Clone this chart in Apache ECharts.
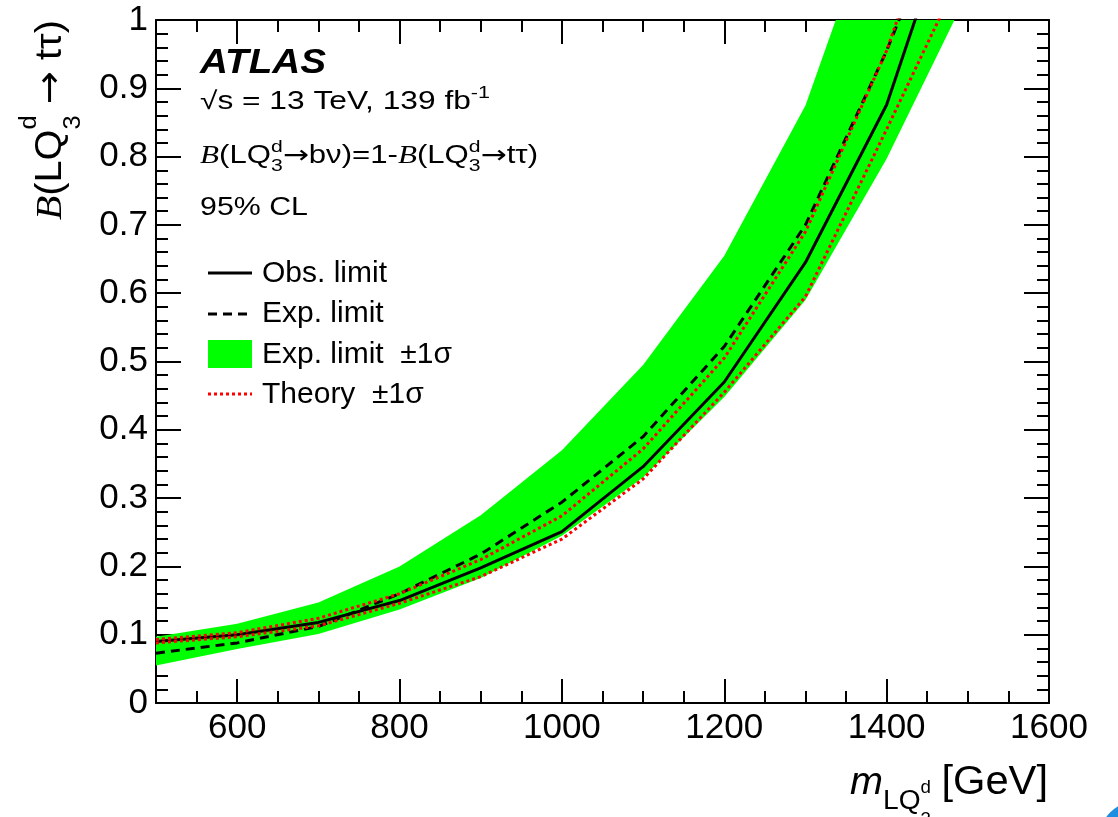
<!DOCTYPE html>
<html>
<head>
<meta charset="utf-8">
<script src="https://cdn.jsdelivr.net/npm/echarts@6/dist/echarts.min.js"></script>
<style>
  html, body { margin: 0; padding: 0; background: #fff; }
  #chart { width: 1118px; height: 817px; }
</style>
</head>
<body>
<div id="chart"></div>
<script>
// Leptoquark mass points [GeV]
const massPoints = [500, 600, 700, 800, 900, 1000, 1100, 1200, 1300, 1400, 1500];
// 95% CL limits on B(LQ -> t tau)
const observedLimit = [0.090, 0.100, 0.118, 0.150, 0.198, 0.251, 0.346, 0.470, 0.645, 0.876, 1.23];
const expectedLimit = [0.073, 0.088, 0.112, 0.160, 0.218, 0.294, 0.390, 0.522, 0.700, 0.955, 1.25];
const expectedUp1s  = [0.097, 0.116, 0.147, 0.200, 0.275, 0.370, 0.495, 0.655, 0.875, 1.21, 1.60];
const expectedDn1s  = [0.055, 0.079, 0.101, 0.137, 0.183, 0.245, 0.330, 0.448, 0.590, 0.797, 1.04];
const theoryUp1s    = [0.093, 0.103, 0.124, 0.160, 0.210, 0.274, 0.372, 0.505, 0.690, 0.955, 1.30];
const theoryDn1s    = [0.088, 0.097, 0.113, 0.146, 0.185, 0.240, 0.328, 0.455, 0.595, 0.840, 1.09];
// axis ticks
const xMajorTicks = [600, 800, 1000, 1200, 1400, 1600];
const xMinorStep = 50;
const yMajorStep = 0.1;

const SANS = '"Liberation Sans", Arial, Helvetica, sans-serif';
const SERIF = '"Liberation Serif", "Times New Roman", serif';
const SYMB = '"DejaVu Sans", sans-serif';
const BLACK = '#000';
const GREEN = '#00ff00';
const RED = '#ff0000';

const pairs = (ys) => massPoints.map((m, i) => [m, ys[i]]);

// --- small text layout helper for labels with super/subscripts ---
const measureCtx = document.createElement('canvas').getContext('2d');
function fontOf(p, size) {
  const fam = p.f === 'serif' ? SERIF : (p.f === 'sym' ? SYMB : SANS);
  return (p.i ? 'italic ' : '') + (p.b ? 'bold ' : '') + size + 'px ' + fam;
}
function textWidth(str, font) { measureCtx.font = font; return measureCtx.measureText(str).width; }
function mathText(pieces, opt) {
  let x = 0;
  const children = [];
  const put = (str, font, size, rise, px) => {
    children.push({
      type: 'text', x: px, y: -rise - 0.32 * size,
      style: { text: str, font: font, fill: BLACK, align: 'left', verticalAlign: 'middle' }
    });
  };
  pieces.forEach(p => {
    if (p.t !== undefined) {
      const font = fontOf(p, p.s);
      put(p.t, font, p.s, p.rise || 0, x);
      x += textWidth(p.t, font) + (p.gap || 0);
    } else {
      let w = 0;
      if (p.sup) { const f = fontOf(p, p.s); put(p.sup, f, p.s, p.supRise, x); w = Math.max(w, textWidth(p.sup, f)); }
      if (p.sub) { const f = fontOf(p, p.s); put(p.sub, f, p.s, -p.subDrop, x); w = Math.max(w, textWidth(p.sub, f)); }
      x += w + (p.gap || 0);
    }
  });
  return {
    type: 'group', x: opt.x, y: opt.y, rotation: opt.rotation || 0,
    scaleX: opt.width ? opt.width / x : 1, silent: true, children: children
  };
}

const annotations = [
  mathText([{ t: 'ATLAS', s: 35, b: true, i: true }], { x: 200, y: 75, width: 126 }),
  mathText([{ t: '√s = 13 TeV, 139 fb', s: 25 }, { sup: '-1', s: 17, supRise: 11 }], { x: 200, y: 110, width: 290 }),
  mathText([
    { t: 'B', s: 25, f: 'serif', i: true }, { t: '(LQ', s: 25 },
    { sup: 'd', sub: '3', s: 17, supRise: 11, subDrop: 8 },
    { t: '→', s: 25, f: 'sym' }, { t: 'bν)=1-', s: 25 },
    { t: 'B', s: 25, f: 'serif', i: true }, { t: '(LQ', s: 25 },
    { sup: 'd', sub: '3', s: 17, supRise: 11, subDrop: 8 },
    { t: '→', s: 25, f: 'sym' }, { t: 'tτ)', s: 25 }
  ], { x: 200, y: 164, width: 338 }),
  mathText([{ t: '95% CL', s: 25 }], { x: 200, y: 216, width: 108 }),
  // y-axis title, reading upwards
  mathText([
    { t: 'B', s: 36, f: 'serif', i: true }, { t: '(LQ', s: 36 },
    { sup: 'd', sub: '3', s: 23, supRise: 26, subDrop: 18 },
    { t: ' ', s: 36 }, { t: '→', s: 36, f: 'sym' }, { t: ' tτ)', s: 36 }
  ], { x: 63, y: 220, rotation: Math.PI / 2, width: 200 }),
  // x-axis title
  mathText([
    { t: 'm', s: 38, i: true },
    { t: 'LQ', s: 27, rise: -14 },
    { sup: 'd', sub: '3', s: 18, supRise: 2, subDrop: 30, gap: 10 },
    { t: '[GeV]', s: 40 }
  ], { x: 850, y: 796, width: 198 }),
  { type: 'circle', shape: { cx: 1140, cy: 842, r: 42 }, style: { fill: '#1e8ee0' }, silent: true }
];

// legend: sample marks and labels
const legendX = 208, legendW = 44, legendTextX = 262;
const legendRows = [
  { label: [{ t: 'Obs. limit', s: 30 }], base: 283, mark: { kind: 'line', y: 273, stroke: BLACK, dash: null } },
  { label: [{ t: 'Exp. limit', s: 30 }], base: 323, mark: { kind: 'line', y: 314, stroke: BLACK, dash: [9, 6] } },
  { label: [{ t: 'Exp. limit  ±1σ', s: 30 }], base: 364, mark: { kind: 'rect', y: 340, h: 28, fill: GREEN } },
  { label: [{ t: 'Theory  ±1σ', s: 30 }], base: 404, mark: { kind: 'line', y: 394, stroke: RED, dash: [3, 3] } }
];
legendRows.forEach(r => {
  const m = r.mark;
  if (m.kind === 'line') {
    annotations.push({
      type: 'line', silent: true,
      shape: { x1: legendX, y1: m.y, x2: legendX + legendW, y2: m.y },
      style: { stroke: m.stroke, lineWidth: 3, lineDash: m.dash }
    });
  } else {
    annotations.push({
      type: 'rect', silent: true,
      shape: { x: legendX, y: m.y, width: legendW, height: m.h },
      style: { fill: m.fill }
    });
  }
  annotations.push(mathText(r.label, { x: legendTextX, y: r.base }));
});

const chart = echarts.init(document.getElementById('chart'), null, { renderer: 'canvas' });

const axisLineStyle = { color: BLACK, width: 2 };
const tickLine = { color: BLACK, width: 2 };

function xAxisPair(position, withLabels) {
  return [
    { // minor ticks every 50 GeV + axis line + labels
      type: 'value', min: 500, max: 1600, interval: xMinorStep, position: position,
      axisLine: { show: true, onZero: false, lineStyle: axisLineStyle },
      axisTick: { show: true, inside: true, length: 12, lineStyle: tickLine },
      axisLabel: withLabels ? {
        show: true, customValues: xMajorTicks, formatter: v => String(v),
        fontSize: 35, fontFamily: SANS, color: BLACK, margin: 8
      } : { show: false },
      splitLine: { show: false }
    },
    { // major ticks
      type: 'value', min: 500, max: 1600, interval: xMinorStep, position: position,
      axisLine: { show: false, onZero: false },
      axisTick: { show: true, inside: true, length: 24, customValues: xMajorTicks, lineStyle: tickLine },
      axisLabel: { show: false },
      splitLine: { show: false }
    }
  ];
}

function yAxisDef(position, withLabels) {
  return {
    type: 'value', min: 0, max: 1, interval: yMajorStep, position: position,
    axisLine: { show: true, onZero: false, lineStyle: axisLineStyle },
    axisTick: { show: true, inside: true, length: 25, lineStyle: tickLine },
    minorTick: { show: true, splitNumber: 5, length: 12, lineStyle: tickLine },
    axisLabel: withLabels ? { show: true, fontSize: 35, fontFamily: SANS, color: BLACK, margin: 8 } : { show: false },
    splitLine: { show: false }
  };
}

const option = {
  animation: false,
  backgroundColor: '#fff',
  grid: { left: 156, right: 69, top: 20, bottom: 114, containLabel: false },
  xAxis: [].concat(xAxisPair('bottom', true), xAxisPair('top', false)),
  yAxis: [yAxisDef('left', true), yAxisDef('right', false)],
  graphic: annotations,
  series: [
    {
      name: 'Exp. limit  ±1σ', type: 'custom', xAxisIndex: 0, yAxisIndex: 0,
      data: [[massPoints[0], expectedDn1s[0]]], clip: true, z: 1,
      itemStyle: { color: GREEN },
      renderItem: function (params, api) {
        const up = massPoints.map((m, i) => api.coord([m, expectedUp1s[i]]));
        const dn = massPoints.map((m, i) => api.coord([m, expectedDn1s[i]])).reverse();
        const cs = params.coordSys;
        return {
          type: 'polygon',
          shape: { points: up.concat(dn) },
          style: { fill: GREEN },
          clipPath: { type: 'rect', shape: { x: cs.x, y: cs.y, width: cs.width, height: cs.height } }
        };
      }
    },
    {
      name: 'Exp. limit', type: 'line', xAxisIndex: 0, yAxisIndex: 0, data: pairs(expectedLimit),
      symbol: 'none', clip: true, z: 3,
      lineStyle: { color: BLACK, width: 3, type: [9, 6] }, itemStyle: { color: BLACK }
    },
    {
      name: 'Obs. limit', type: 'line', xAxisIndex: 0, yAxisIndex: 0, data: pairs(observedLimit),
      symbol: 'none', clip: true, z: 4,
      lineStyle: { color: BLACK, width: 3, type: 'solid' }, itemStyle: { color: BLACK }
    },
    {
      name: 'Theory  ±1σ', type: 'line', xAxisIndex: 0, yAxisIndex: 0, data: pairs(theoryUp1s),
      symbol: 'none', clip: true, z: 5,
      lineStyle: { color: RED, width: 3, type: [3, 3] }, itemStyle: { color: RED }
    },
    {
      name: 'Theory  ±1σ', type: 'line', xAxisIndex: 0, yAxisIndex: 0, data: pairs(theoryDn1s),
      symbol: 'none', clip: true, z: 5,
      lineStyle: { color: RED, width: 3, type: [3, 3] }, itemStyle: { color: RED }
    }
  ]
};

chart.setOption(option);
</script>
</body>
</html>
